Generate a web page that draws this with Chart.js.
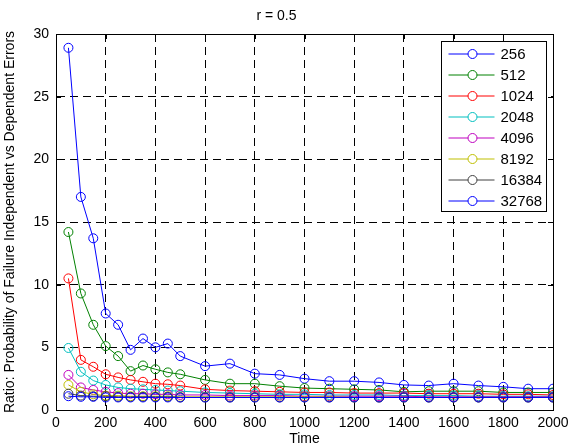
<!DOCTYPE html>
<html>
<head>
<meta charset="utf-8">
<title>r = 0.5</title>
<script src="https://cdn.jsdelivr.net/npm/chart.js@4/dist/chart.umd.min.js"></script>
<style>
	html, body { margin: 0; padding: 0; background: #fff; }
	#wrap { width: 571px; height: 448px; }
</style>
</head>
<body>
<div id="wrap"><canvas id="chart-ratio" width="571" height="448"></canvas></div>
<script>
// time steps
const times = [50, 100, 150, 200, 250, 300, 350, 400, 450, 500, 600, 700, 800, 900, 1000, 1100, 1200, 1300, 1400, 1500, 1600, 1700, 1800, 1900, 2000]

// one series per word size
const seriesLabels = ['256', '512', '1024', '2048', '4096', '8192', '16384', '32768']
const seriesColors = ['#0000ff', '#008000', '#ff0000', '#00bfbf', '#bf00bf', '#bfbf00', '#404040', '#0000ff']

const ratio256 = [28.9, 17.0, 13.7, 7.7, 6.8, 4.8, 5.7, 5.0, 5.3, 4.3, 3.5, 3.7, 2.9, 2.8, 2.5, 2.3, 2.3, 2.2, 2.0, 1.95, 2.1, 1.95, 1.85, 1.7, 1.7]
const ratio512 = [14.2, 9.3, 6.8, 5.1, 4.3, 3.1, 3.55, 3.25, 3.0, 2.85, 2.4, 2.1, 2.1, 1.9, 1.75, 1.7, 1.65, 1.6, 1.45, 1.5, 1.5, 1.5, 1.4, 1.4, 1.4]
const ratio1024 = [10.5, 4.0, 3.45, 2.85, 2.6, 2.4, 2.25, 2.1, 2.05, 1.95, 1.65, 1.55, 1.5, 1.45, 1.4, 1.4, 1.35, 1.35, 1.35, 1.3, 1.3, 1.3, 1.25, 1.25, 1.2]
const ratio2048 = [4.95, 3.05, 2.35, 2.0, 1.8, 1.7, 1.65, 1.6, 1.55, 1.5, 1.4, 1.35, 1.3, 1.25, 1.25, 1.2, 1.2, 1.2, 1.15, 1.15, 1.15, 1.1, 1.1, 1.1, 1.1]
const ratio4096 = [2.8, 1.8, 1.6, 1.45, 1.35, 1.3, 1.3, 1.25, 1.25, 1.2, 1.2, 1.15, 1.15, 1.15, 1.1, 1.1, 1.1, 1.1, 1.1, 1.05, 1.05, 1.05, 1.05, 1.05, 1.05]
const ratio8192 = [2.0, 1.45, 1.25, 1.15, 1.15, 1.1, 1.1, 1.1, 1.1, 1.05, 1.05, 1.05, 1.05, 1.05, 1.05, 1.05, 1.0, 1.0, 1.0, 1.0, 1.0, 1.0, 1.0, 1.0, 1.0]
const ratio16384 = [1.3, 1.15, 1.1, 1.1, 1.05, 1.05, 1.05, 1.05, 1.05, 1.0, 1.0, 1.0, 1.0, 1.0, 1.0, 1.0, 1.0, 1.0, 1.0, 1.0, 1.0, 1.0, 1.0, 1.0, 1.0]
const ratio32768 = [1.1, 1.05, 1.05, 1.0, 1.0, 1.0, 1.0, 1.0, 1.0, 1.0, 1.0, 1.0, 1.0, 1.0, 1.0, 1.0, 1.0, 1.0, 1.0, 1.0, 1.0, 1.0, 1.0, 1.0, 1.0]

const allRatios = [ratio256, ratio512, ratio1024, ratio2048, ratio4096, ratio8192, ratio16384, ratio32768]

const xTicks = [0, 200, 400, 600, 800, 1000, 1200, 1400, 1600, 1800, 2000]
const yTicks = [0, 5, 10, 15, 20, 25, 30]

const fontFamily = '"Liberation Sans", Arial, Helvetica, sans-serif'

let ratioChart

// matlab style box: full frame + ticks pointing inwards on every side
const boxPlugin = {
	id: 'matlabBox',
	afterDatasetsDraw: function(chart) {
		const ctx = chart.ctx
		const area = chart.chartArea
		const xs = chart.scales.x
		const ys = chart.scales.y
		const tl = 5
		ctx.save()
		ctx.strokeStyle = '#000'
		ctx.lineWidth = 1
		ctx.beginPath()
		xs.ticks.forEach(tick => {
			let px = Math.round(xs.getPixelForValue(tick.value)) + 0.5
			ctx.moveTo(px, area.bottom)
			ctx.lineTo(px, area.bottom - tl)
			ctx.moveTo(px, area.top)
			ctx.lineTo(px, area.top + tl)
		})
		ys.ticks.forEach(tick => {
			let py = Math.round(ys.getPixelForValue(tick.value)) + 0.5
			ctx.moveTo(area.left, py)
			ctx.lineTo(area.left + tl, py)
			ctx.moveTo(area.right, py)
			ctx.lineTo(area.right - tl, py)
		})
		ctx.stroke()
		ctx.strokeRect(Math.round(area.left) + 0.5, Math.round(area.top) + 0.5, Math.round(area.right - area.left), Math.round(area.bottom - area.top))
		ctx.restore()
	}
}

// legend box inside the top right corner of the plot
const legendPlugin = {
	id: 'insideLegend',
	afterDraw: function(chart) {
		const ctx = chart.ctx
		const area = chart.chartArea
		const sets = chart.data.datasets
		const w = 105
		const rowH = 21
		const h = 170
		const left = Math.round(area.right - 7 - w) + 0.5
		const top = Math.round(area.top + 7) + 0.5
		ctx.save()
		ctx.fillStyle = '#fff'
		ctx.fillRect(left, top, w, h)
		ctx.strokeStyle = '#000'
		ctx.lineWidth = 1
		ctx.strokeRect(left, top, w, h)
		ctx.font = '15px ' + fontFamily
		ctx.textBaseline = 'middle'
		ctx.textAlign = 'left'
		sets.forEach((ds, i) => {
			let cy = top + 12.5 + i * rowH
			ctx.strokeStyle = ds.borderColor
			ctx.beginPath()
			ctx.moveTo(left + 7, cy)
			ctx.lineTo(left + 53, cy)
			ctx.stroke()
			ctx.beginPath()
			ctx.arc(left + 31, cy, 4.5, 0, Math.PI * 2)
			ctx.fillStyle = '#fff'
			ctx.fill()
			ctx.stroke()
			ctx.fillStyle = '#000'
			ctx.fillText(ds.label, left + 59, cy + 1)
		})
		ctx.restore()
	}
}

document.addEventListener('DOMContentLoaded', function() {
	const datasets = seriesLabels.map(function(label, i) {
		return {
			label: label,
			data: times.map((t, j) => ({ x: t, y: allRatios[i][j] })),
			borderColor: seriesColors[i],
			backgroundColor: 'transparent',
			borderWidth: 1,
			pointRadius: 4.5,
			pointBorderWidth: 1,
			pointBackgroundColor: 'transparent',
			pointBorderColor: seriesColors[i],
			tension: 0,
			order: seriesLabels.length - i // later series on top, as in matlab
		}
	})

	const chartElem = document.getElementById('chart-ratio').getContext('2d')
	ratioChart = new Chart(chartElem, {
		type: 'line',
		data: { datasets: datasets },
		options: {
			responsive: false,
			animation: false,
			layout: { padding: { left: 0, right: 18, top: 0, bottom: 0 } },
			plugins: {
				legend: { display: false },
				tooltip: { enabled: false },
				title: {
					display: true,
					text: 'r = 0.5',
					color: '#000',
					font: { family: fontFamily, size: 14, weight: 'normal' },
					padding: { top: 8, bottom: 9.2 }
				}
			},
			scales: {
				x: {
					type: 'linear',
					min: 0,
					max: 2000,
					afterFit: function(scale) {
						scale.height = 38
						scale.paddingLeft = 0 // last label may hang into the margin
						scale.paddingRight = 0
					},
					afterBuildTicks: function(scale) { scale.ticks = xTicks.map(v => ({ value: v })) },
					ticks: {
						color: '#000',
						padding: 5,
						maxRotation: 0,
						autoSkip: false,
						font: { family: fontFamily, size: 14 },
						callback: function(value) { return String(value) } // no thousands separator
					},
					grid: { color: '#000', lineWidth: 1, drawTicks: false },
					border: { color: '#000', dash: [8, 5] },
					title: {
						display: true,
						text: 'Time',
						color: '#000',
						padding: { top: 0, bottom: 0 },
						font: { family: fontFamily, size: 14 }
					}
				},
				y: {
					type: 'linear',
					min: 0,
					max: 30,
					afterFit: function(scale) {
						scale.width = 56
						scale.paddingTop = 0
						scale.paddingBottom = 0
					},
					afterBuildTicks: function(scale) { scale.ticks = yTicks.map(v => ({ value: v })) },
					ticks: {
						color: '#000',
						padding: 7,
						font: { family: fontFamily, size: 14 },
						callback: function(value) { return String(value) }
					},
					grid: { color: '#000', lineWidth: 1, drawTicks: false },
					border: { color: '#000', dash: [8, 5] },
					title: {
						display: true,
						text: 'Ratio: Probability of Failure Independent vs Dependent Errors',
						color: '#000',
						padding: { top: 2, bottom: 0 },
						font: { family: fontFamily, size: 14 }
					}
				}
			}
		},
		plugins: [boxPlugin, legendPlugin]
	})
})
</script>
</body>
</html>
